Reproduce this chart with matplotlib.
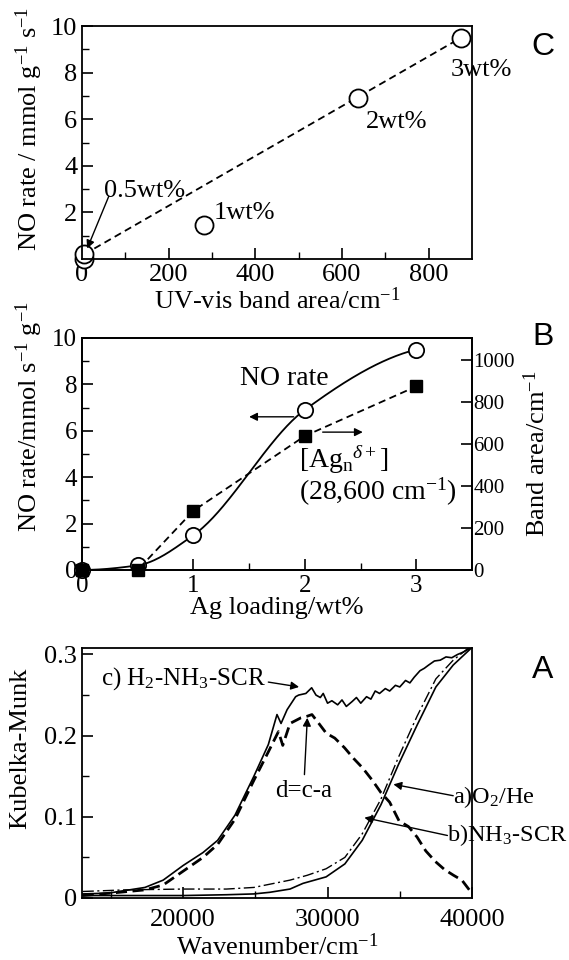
import numpy as np
import matplotlib
matplotlib.use("Agg")
import matplotlib.pyplot as plt

plt.rcParams['font.family'] = ['Liberation Serif', 'DejaVu Serif']
plt.rcParams['mathtext.fontset'] = 'custom'
plt.rcParams['mathtext.rm'] = 'Liberation Serif'
plt.rcParams['mathtext.it'] = 'Liberation Serif:italic'
plt.rcParams['axes.linewidth'] = 1.3

# Panel C: NO rate vs UV-vis band area
c_area = [5, 5, 281, 637, 875]
c_rate = [0.0, 0.2, 1.47, 6.9, 9.5]
c_fit_x = [5, 875]
c_fit_y = [0.2, 9.5]

# Panel B: NO rate and band area vs Ag loading
b_load = [0, 0.5, 1, 2, 3]
b_rate = [0.0, 0.2, 1.5, 6.9, 9.5]
b_band = [0, 0, 282, 638, 874]

# Panel A: Kubelka-Munk spectra
wn_c = [13050, 14850, 17360, 18620, 20000, 21380, 22390, 23590, 24900, 25900,
        26500, 26780, 27200, 27790, 28000, 28500, 28900, 29200, 29500, 29700,
        30000, 30300, 30700, 31000, 31300, 31700, 32000, 32300, 32700, 33000,
        33300, 33600, 34000, 34300, 34700, 35000, 35400, 35700, 36000, 36400,
        36700, 37000, 37400, 37800, 38200, 38600, 39000, 39400, 39800, 40000]
km_c = [0.005, 0.006, 0.013, 0.022, 0.040, 0.056, 0.071, 0.102, 0.150, 0.189,
        0.226, 0.215, 0.232, 0.248, 0.250, 0.252, 0.259, 0.250, 0.247, 0.252,
        0.240, 0.243, 0.238, 0.244, 0.236, 0.242, 0.247, 0.240, 0.248, 0.245,
        0.255, 0.252, 0.258, 0.255, 0.262, 0.260, 0.268, 0.265, 0.272, 0.280,
        0.283, 0.287, 0.292, 0.293, 0.297, 0.296, 0.300, 0.303, 0.307, 0.310]

wn_d = [13050, 15000, 17360, 18620, 20000, 21380, 22390, 23590, 24900, 25900,
        26600, 26900, 27400, 28160, 28600, 28920, 29400, 29910, 30500, 31180,
        31800, 32440, 33100, 33690, 34300, 34950, 35600, 36200, 36800, 37460,
        38100, 38720, 39300, 39900]
km_d = [0.003, 0.006, 0.010, 0.016, 0.033, 0.050, 0.066, 0.097, 0.145, 0.180,
        0.205, 0.188, 0.215, 0.222, 0.224, 0.226, 0.215, 0.203, 0.197, 0.185,
        0.172, 0.160, 0.145, 0.130, 0.118, 0.095, 0.088, 0.075, 0.058, 0.045,
        0.035, 0.028, 0.022, 0.008]

wn_a = [13050, 16000, 20000, 23000, 24900, 26000, 27400, 28300, 29900, 31200,
        32400, 33700, 34900, 36200, 37500, 38700, 39900]
km_a = [0.003, 0.003, 0.003, 0.004, 0.005, 0.007, 0.011, 0.018, 0.026, 0.042,
        0.071, 0.115, 0.164, 0.213, 0.260, 0.287, 0.307]

wn_b = [13050, 16000, 20000, 23000, 24900, 27400, 28600, 29900, 31200, 32400,
        33700, 34900, 36200, 37500, 38700, 39900]
km_b = [0.008, 0.010, 0.011, 0.011, 0.013, 0.022, 0.028, 0.036, 0.050, 0.079,
        0.122, 0.173, 0.224, 0.270, 0.293, 0.310]


def pchip(x, y, xs):
    # monotone cubic through the measured points (smooth guide line)
    x = np.asarray(x, float)
    y = np.asarray(y, float)
    h = np.diff(x)
    d = np.diff(y) / h
    n = len(x)
    m = np.zeros(n)
    for k in range(1, n - 1):
        if d[k - 1] * d[k] > 0:
            w1 = 2 * h[k] + h[k - 1]
            w2 = h[k] + 2 * h[k - 1]
            m[k] = (w1 + w2) / (w1 / d[k - 1] + w2 / d[k])
    m0 = ((2 * h[0] + h[1]) * d[0] - h[0] * d[1]) / (h[0] + h[1])
    m[0] = m0 if m0 * d[0] > 0 else 0
    mn = ((2 * h[-1] + h[-2]) * d[-1] - h[-1] * d[-2]) / (h[-1] + h[-2])
    m[-1] = mn if mn * d[-1] > 0 else 0
    out = np.empty_like(xs)
    for i, xv in enumerate(xs):
        k = min(max(np.searchsorted(x, xv) - 1, 0), n - 2)
        t = (xv - x[k]) / h[k]
        h00 = 2 * t**3 - 3 * t**2 + 1
        h10 = t**3 - 2 * t**2 + t
        h01 = -2 * t**3 + 3 * t**2
        h11 = t**3 - t**2
        out[i] = h00 * y[k] + h10 * h[k] * m[k] + h01 * y[k + 1] + h11 * h[k] * m[k + 1]
    return out


fig = plt.figure(figsize=(5.69, 9.6), dpi=100)
tfs = 19
arrow = dict(arrowstyle='-|>', color='black', lw=1, mutation_scale=12, shrinkA=0, shrinkB=0)

# ---------- C ----------
axC = fig.add_axes([0.1441, 0.7302, 0.6854, 0.2427])
axC.plot(c_fit_x, c_fit_y, color='black', ls=(0, (4, 2.5)), lw=1.3)
axC.plot(c_area, c_rate, 'o', ms=13, mfc='white', mec='black', mew=1.3, clip_on=False)
axC.set_xlim(0, 900)
axC.set_ylim(0, 10)
axC.set_xticks([0, 200, 400, 600, 800])
axC.set_xticks(np.arange(100, 900, 200), minor=True)
axC.set_yticks([2, 4, 6, 8, 10])
axC.set_yticks(np.arange(1, 10, 2), minor=True)
axC.tick_params(direction='in', labelsize=tfs, length=8, width=1.2)
axC.tick_params(which='minor', direction='in', length=5, width=1)
axC.set_xlabel('UV-vis band area/cm$^{-1}$', fontsize=19, labelpad=1)
axC.set_ylabel('NO rate / mmol g$^{-1}$ s$^{-1}$', fontsize=19)
axC.yaxis.set_label_coords(-0.095, 0.56)
axC.text(50, 2.9, '0.5wt%', fontsize=19, va='center')
axC.annotate('', xy=(12, 0.45), xytext=(62, 2.7), arrowprops=arrow)
axC.text(304, 1.97, '1wt%', fontsize=19, va='center')
axC.text(656, 5.9, '2wt%', fontsize=19, va='center')
axC.text(852, 8.1, '3wt%', fontsize=19, va='center')
fig.text(0.954, 0.951, 'C', fontsize=23, family='Liberation Sans', ha='center', va='center')

# ---------- B ----------
axB = fig.add_axes([0.1441, 0.4063, 0.6854, 0.2417])
xs = np.linspace(0, 3, 200)
axB.plot(xs, pchip(b_load, b_rate, xs), color='black', lw=1.3)
axB.plot(b_load, b_rate, 'o', ms=11, mfc='white', mec='black', mew=1.3, clip_on=False, zorder=4)
axB.set_xlim(0, 3.5)
axB.set_ylim(0, 10)
axB.set_xticks([0, 1, 2, 3])
axB.set_xticks([0.5, 1.5, 2.5], minor=True)
axB.set_yticks([0, 2, 4, 6, 8, 10])
axB.set_yticks([1, 3, 5, 7, 9], minor=True)
axB.tick_params(direction='in', labelsize=18, length=8, width=1.2)
axB.tick_params(which='minor', direction='in', length=5, width=1)
axB.set_xlabel('Ag loading/wt%', fontsize=19, labelpad=0)
axB.set_ylabel('NO rate/mmol s$^{-1}$ g$^{-1}$', fontsize=19)
axB.yaxis.set_label_coords(-0.095, 0.66)

axB2 = axB.twinx()
axB2.plot(b_load, b_band, color='black', ls=(0, (4, 2.5)), lw=1.3)
axB2.plot(b_load, b_band, 's', ms=8, color='black', clip_on=False, zorder=5)
axB2.set_ylim(0, 1105)
axB2.set_yticks([0, 200, 400, 600, 800, 1000])
axB2.tick_params(direction='in', labelsize=15, length=8, width=1.2, pad=1)
axB2.set_ylabel('Band area/cm$^{-1}$', fontsize=19, labelpad=6)

axB.text(1.82, 8.25, 'NO rate', fontsize=20, ha='center', va='center')
axB.annotate('', xy=(1.5, 6.6), xytext=(1.9, 6.6), arrowprops=arrow)
axB.annotate('', xy=(2.52, 5.94), xytext=(2.16, 5.94), arrowprops=arrow)
axB.text(1.95, 4.75, r'[Ag$_{\mathrm{n}}$$^{\delta+}$]', fontsize=20, va='center')
axB.text(1.95, 3.35, '(28,600 cm$^{-1}$)', fontsize=20, va='center')
fig.text(0.954, 0.649, 'B', fontsize=23, family='Liberation Sans', ha='center', va='center')

# ---------- A ----------
axA = fig.add_axes([0.1441, 0.0646, 0.6854, 0.2604])
axA.plot(wn_c, km_c, color='black', lw=1.2)
axA.plot(wn_d, km_d, color='black', ls=(0, (4, 2)), lw=2)
axA.plot(wn_a, km_a, color='black', lw=1.2)
axA.plot(wn_b, km_b, color='black', ls=(0, (8, 2.5, 1.5, 2.5)), lw=1)
axA.set_xlim(13000, 40000)
axA.set_ylim(0, 0.308)
axA.set_xticks([20000, 30000, 40000])
axA.set_xticks([15000, 25000, 35000], minor=True)
axA.set_yticks([0, 0.1, 0.2, 0.3])
axA.set_yticks([0.05, 0.15, 0.25], minor=True)
axA.set_yticklabels(['0', '0.1', '0.2', '0.3'])
axA.tick_params(direction='in', labelsize=19, length=8, width=1.2)
axA.tick_params(axis='x', pad=8)
axA.tick_params(which='minor', direction='in', length=5, width=1)
axA.set_xlabel('Wavenumber/cm$^{-1}$', fontsize=19, labelpad=2)
axA.set_ylabel('Kubelka-Munk', fontsize=19)
axA.yaxis.set_label_coords(-0.13, 0.6)

axA.text(14350, 0.27, 'c) H$_2$-NH$_3$-SCR', fontsize=18, va='center')
axA.annotate('', xy=(28030, 0.26), xytext=(25900, 0.266), arrowprops=arrow)
axA.text(28360, 0.132, 'd=c-a', fontsize=18, ha='center', va='center')
axA.annotate('', xy=(28600, 0.222), xytext=(28400, 0.152), arrowprops=arrow)
axA.text(38700, 0.124, 'a)O$_2$/He', fontsize=17.5, va='center', clip_on=False)
axA.annotate('', xy=(34560, 0.14), xytext=(38700, 0.126), arrowprops=arrow)
axA.text(38300, 0.077, 'b)NH$_3$-SCR', fontsize=17.5, va='center', clip_on=False)
axA.annotate('', xy=(32550, 0.099), xytext=(38300, 0.077), arrowprops=arrow)
fig.text(0.954, 0.302, 'A', fontsize=23, family='Liberation Sans', ha='center', va='center')

fig.savefig('out.png', dpi=100)
